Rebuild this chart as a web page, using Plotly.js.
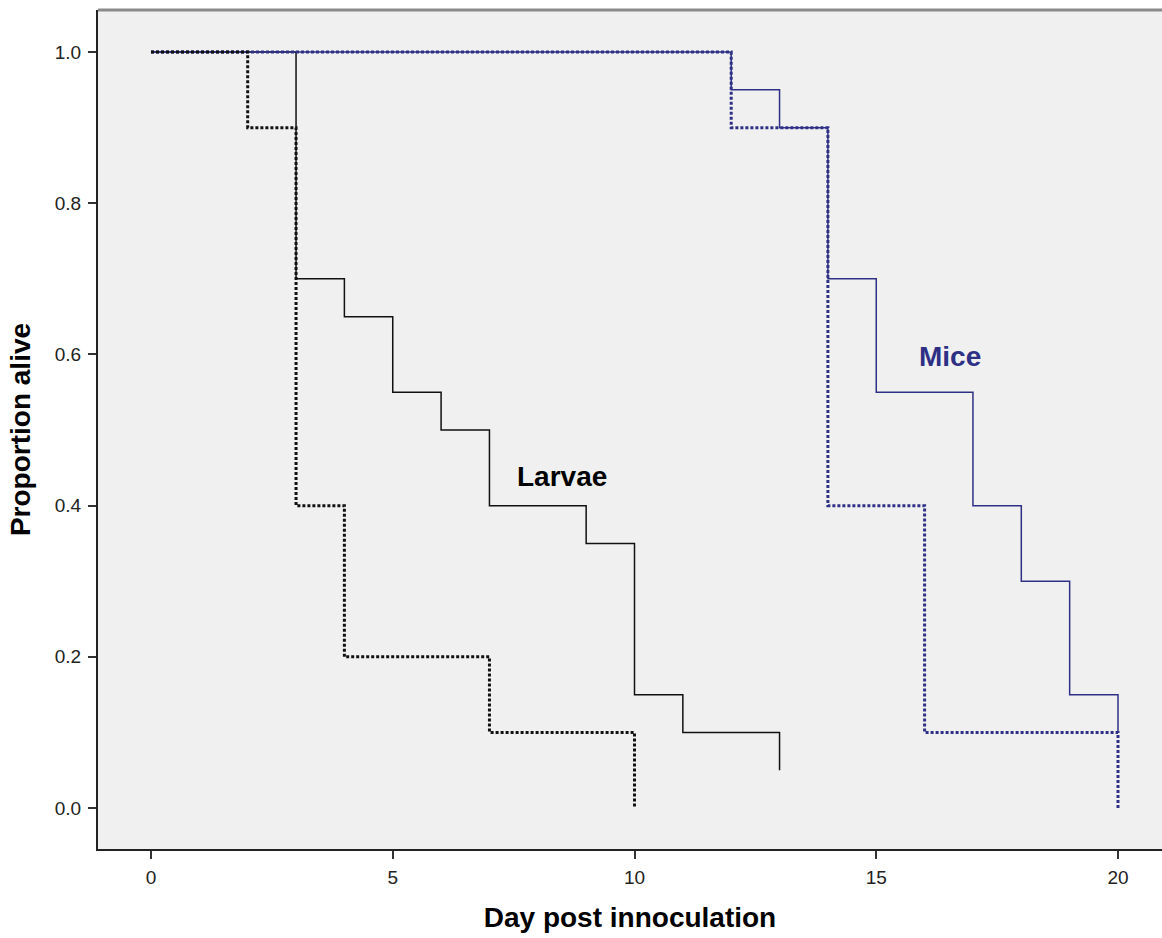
<!DOCTYPE html>
<html>
<head>
<meta charset="utf-8">
<script src="https://cdn.plot.ly/plotly-3.0.1.min.js"></script>
<style>html,body{margin:0;padding:0;background:#fff;}#chart{width:1162px;height:938px;}</style>
</head>
<body>
<div id="chart"></div>
<script>
// Kaplan-Meier step data (time of event, proportion alive after event)
const larvaeSolidX = [0, 3, 4, 5, 6, 7, 9, 10, 11, 13];
const larvaeSolidY = [1, 0.7, 0.65, 0.55, 0.5, 0.4, 0.35, 0.15, 0.1, 0.05];
const larvaeDotX = [0, 2, 3, 4, 7, 10];
const larvaeDotY = [1, 0.9, 0.4, 0.2, 0.1, 0];
const miceSolidX = [0, 12, 13, 14, 15, 17, 18, 19, 20];
const miceSolidY = [1, 0.95, 0.9, 0.7, 0.55, 0.4, 0.3, 0.15, 0.1];
const miceDotX = [0, 12, 14, 16, 20];
const miceDotY = [1, 0.9, 0.4, 0.1, 0];
const xTicks = [0, 5, 10, 15, 20];
const yTicks = [0, 0.2, 0.4, 0.6, 0.8, 1.0];
const yTickText = ['0.0', '0.2', '0.4', '0.6', '0.8', '1.0'];

const black = '#111111';
const blue = '#2e3086';

const traces = [
  {x: larvaeSolidX, y: larvaeSolidY, mode: 'lines', line: {shape: 'hv', color: black, width: 1.5}},
  {x: miceSolidX, y: miceSolidY, mode: 'lines', line: {shape: 'hv', color: blue, width: 1.5}},
  {x: miceDotX, y: miceDotY, mode: 'lines', line: {shape: 'hv', color: blue, width: 3, dash: '3px,2px'}},
  {x: larvaeDotX, y: larvaeDotY, mode: 'lines', line: {shape: 'hv', color: black, width: 3, dash: '3px,2px'}}
];

const layout = {
  width: 1162, height: 938,
  margin: {l: 98, r: 0, t: 10, b: 89},
  paper_bgcolor: '#ffffff',
  plot_bgcolor: '#f0f0f0',
  showlegend: false,
  font: {family: 'Liberation Sans, Arial, sans-serif', color: '#222'},
  xaxis: {
    range: [-1.096, 20.91], tickvals: xTicks, ticktext: xTicks.map(String),
    showgrid: false, zeroline: false, showline: true, linecolor: '#222', linewidth: 2,
    ticks: 'outside', ticklen: 8, tickwidth: 2, tickcolor: '#333',
    tickfont: {size: 19, color: '#222'}, ticklabelstandoff: 2,
    title: {text: '<b>Day post innoculation</b>', font: {size: 28, color: '#000'}, standoff: 21}
  },
  yaxis: {
    range: [-0.0542, 1.0556], tickvals: yTicks, ticktext: yTickText,
    showgrid: false, zeroline: false, showline: true, linecolor: '#222', linewidth: 2,
    ticks: 'outside', ticklen: 8, tickwidth: 2, tickcolor: '#333',
    tickfont: {size: 19, color: '#222'}, ticklabelstandoff: 3,
    title: {text: '<b>Proportion alive</b>', font: {size: 28, color: '#000'}, standoff: 16}
  },
  shapes: [
    {type: 'line', xref: 'paper', yref: 'paper', x0: 0, x1: 1, y0: 1, y1: 1, line: {color: '#8a8a8a', width: 3}}
  ],
  annotations: [
    {x: 8.5, y: 0.439, text: '<b>Larvae</b>', showarrow: false, font: {size: 28, color: '#000'}},
    {x: 16.52, y: 0.597, text: '<b>Mice</b>', showarrow: false, font: {size: 28, color: blue}}
  ]
};

Plotly.newPlot('chart', traces, layout, {displayModeBar: false, staticPlot: true});
</script>
</body>
</html>
